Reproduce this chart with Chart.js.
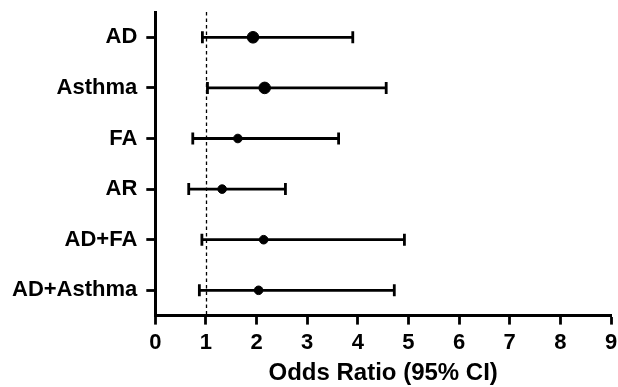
<!DOCTYPE html>
<html>
<head>
<meta charset="utf-8">
<script src="https://cdn.jsdelivr.net/npm/chart.js@4/dist/chart.umd.min.js"></script>
<style>
  html, body { margin: 0; padding: 0; background: #fff; }
  #wrap { width: 618px; height: 387px; }
</style>
</head>
<body>
<div id="wrap"><canvas id="forest"></canvas></div>
<script>
// ---- data ----
const groups = ['AD', 'Asthma', 'FA', 'AR', 'AD+FA', 'AD+Asthma'];
const oddsRatio = [1.93, 2.16, 1.63, 1.32, 2.14, 2.04];
const ciLower = [0.93, 1.03, 0.74, 0.66, 0.92, 0.87];
const ciUpper = [3.90, 4.56, 3.62, 2.57, 4.92, 4.72];
const markerSize = [5.8, 5.8, 4.3, 4.3, 4.3, 4.3];
const xTicks = [0, 1, 2, 3, 4, 5, 6, 7, 8, 9];
const refLine = 1;

const FONT = "'Liberation Sans', Arial, Helvetica, sans-serif";

// dashed line at OR = 1 and the CI whiskers
const forestPlugin = {
  id: 'forest',
  beforeDatasetsDraw(chart) {
    const { ctx, chartArea, scales } = chart;
    const x = scales.x, y = scales.y;
    ctx.save();
    // reference line
    const rx = Math.round(x.getPixelForValue(refLine)) + 0.5;
    ctx.strokeStyle = '#000';
    ctx.lineWidth = 1.3;
    ctx.setLineDash([3.5, 3]);
    ctx.beginPath();
    ctx.moveTo(rx, chartArea.top);
    ctx.lineTo(rx, chartArea.bottom);
    ctx.stroke();
    ctx.setLineDash([]);
    // whiskers
    ctx.lineWidth = 2.8;
    groups.forEach((g, i) => {
      const py = y.getPixelForValue(i);
      const x1 = x.getPixelForValue(ciLower[i]);
      const x2 = x.getPixelForValue(ciUpper[i]);
      ctx.beginPath();
      ctx.moveTo(x1, py);
      ctx.lineTo(x2, py);
      ctx.stroke();
      ctx.beginPath();
      ctx.moveTo(x1, py - 6);
      ctx.lineTo(x1, py + 6);
      ctx.moveTo(x2, py - 6);
      ctx.lineTo(x2, py + 6);
      ctx.stroke();
    });
    ctx.restore();
  }
};

new Chart(document.getElementById('forest').getContext('2d'), {
  type: 'scatter',
  data: {
    labels: groups,
    datasets: [{
      data: groups.map((g, i) => ({ x: oddsRatio[i], y: g })),
      backgroundColor: '#000',
      borderColor: '#000',
      pointRadius: markerSize,
      pointHoverRadius: markerSize
    }]
  },
  options: {
    responsive: true,
    maintainAspectRatio: false,
    animation: false,
    layout: { padding: { top: 12, right: 7, left: 3, bottom: 2 } },
    plugins: { legend: { display: false }, tooltip: { enabled: false } },
    scales: {
      x: {
        type: 'linear',
        min: 0,
        max: 9,
        afterBuildTicks: (axis) => { axis.ticks = xTicks.map(v => ({ value: v })); },
        afterFit: (axis) => { axis.paddingLeft = 0; axis.paddingRight = 0; },
        grid: { drawOnChartArea: false, drawTicks: true, tickLength: 9, tickWidth: 2.8, color: '#000' },
        border: { display: true, width: 3, color: '#000' },
        ticks: { color: '#000', padding: 5, font: { family: FONT, size: 22, weight: 'bold' } },
        title: {
          display: true,
          text: 'Odds Ratio (95% CI)',
          color: '#000',
          padding: { top: 0, bottom: 0 },
          font: { family: FONT, size: 24, weight: 'bold', lineHeight: 1 }
        }
      },
      y: {
        type: 'category',
        labels: groups,
        offset: true,
        afterFit: (axis) => { axis.paddingTop = 0; axis.paddingBottom = 0; },
        grid: { offset: false, drawOnChartArea: false, drawTicks: true, tickLength: 9, tickWidth: 2.8, color: '#000' },
        border: { display: true, width: 3, color: '#000' },
        ticks: { color: '#000', padding: 9, font: { family: FONT, size: 22, weight: 'bold' } }
      }
    }
  },
  plugins: [forestPlugin]
});
</script>
</body>
</html>
